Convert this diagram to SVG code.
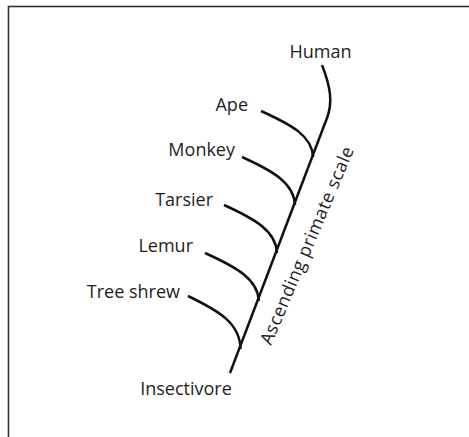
<svg xmlns="http://www.w3.org/2000/svg" width="469" height="437" viewBox="0 0 469 437">
<style>
text{font-family:"Open Sans","Noto Sans","Liberation Sans",sans-serif;font-size:18px;fill:#1e1e1e}
.l{text-anchor:end}
.ln{fill:none;stroke:#111;stroke-width:2.5;stroke-linecap:butt}
</style>
<rect x="0" y="0" width="469" height="437" fill="#fff"/>
<rect x="8.5" y="6.5" width="500" height="500" fill="none" stroke="#333" stroke-width="1.6"/>
<g id="connectors">
<path class="ln" d="M322,65 C331,88 332.7,103 327,118 L230,373"/>
<path class="ln" d="M261,111 C292,125 312,136 313.2,157"/>
<path class="ln" d="M242,157 C273,171 294,183 295,205"/>
<path class="ln" d="M224,205 C255,219 276,231 277,253"/>
<path class="ln" d="M205,253 C236,267 258,279 258.8,301"/>
<path class="ln" d="M188,296 C219,311 240,323 240.5,349"/>
</g>
<g id="human"><text x="320.5" y="58" text-anchor="middle">Human</text></g>
<g id="ape"><text class="l" x="248" y="111">Ape</text></g>
<g id="monkey"><text class="l" x="235" y="156">Monkey</text></g>
<g id="tarsier"><text class="l" x="213" y="206">Tarsier</text></g>
<g id="lemur"><text class="l" x="193" y="252">Lemur</text></g>
<g id="treeshrew"><text class="l" x="180" y="298">Tree shrew</text></g>
<g id="insectivore"><text x="186" y="395" text-anchor="middle">Insectivore</text></g>
<g id="scale"><text transform="translate(271,346) rotate(-67)" textLength="213" lengthAdjust="spacing">Ascending primate scale</text></g>
</svg>
